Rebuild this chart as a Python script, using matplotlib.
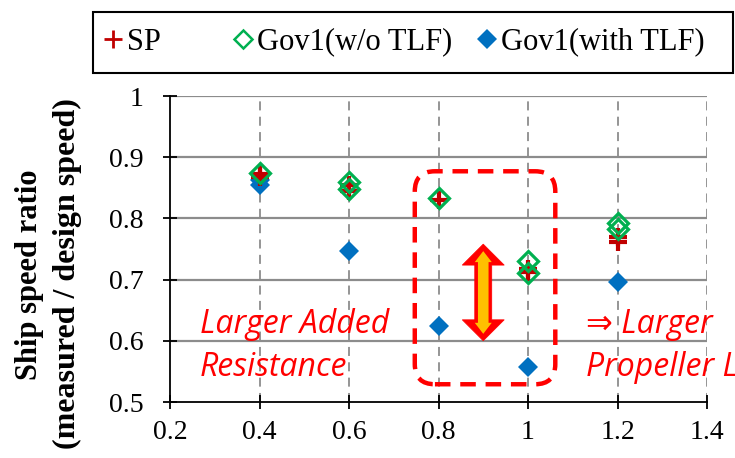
import numpy as np
import matplotlib.pyplot as plt
from matplotlib.lines import Line2D
from matplotlib.patches import FancyBboxPatch, Polygon, Rectangle

# ---- data ----
sp_x = [0.4, 0.4, 0.6, 0.6, 0.8, 1.0, 1.0, 1.2, 1.2]
sp_y = [0.873, 0.868, 0.855, 0.845, 0.830, 0.718, 0.712, 0.769, 0.761]

gov_wo_x = [0.4, 0.6, 0.6, 0.8, 1.0, 1.0, 1.2, 1.2]
gov_wo_y = [0.875, 0.859, 0.848, 0.834, 0.730, 0.711, 0.793, 0.782]

gov_with_x = [0.4, 0.4, 0.6, 0.8, 1.0, 1.2]
gov_with_y = [0.862, 0.854, 0.747, 0.624, 0.557, 0.696]

series_names = ["SP", "Gov1(w/o TLF)", "Gov1(with TLF)"]

x_ticks = [0.2, 0.4, 0.6, 0.8, 1.0, 1.2, 1.4]
x_tick_labels = ["0.2", "0.4", "0.6", "0.8", "1", "1.2", "1.4"]
y_ticks = [0.5, 0.6, 0.7, 0.8, 0.9, 1.0]
y_tick_labels = ["0.5", "0.6", "0.7", "0.8", "0.9", "1"]

# highlighted region and speed-drop arrow
box_x = (0.747, 1.061)
box_y = (0.529, 0.877)
arrow_x = 0.9
arrow_y = (0.600, 0.758)

RED = "#FF0000"
DARKRED = "#C00000"
GREEN = "#00B050"
BLUE = "#0070C0"
GRID = "#8C8C8C"

plt.rcParams["font.family"] = ["Liberation Serif", "DejaVu Serif"]

W, H = 735, 458
fig = plt.figure(figsize=(W / 100, H / 100), dpi=100)
ax_l, ax_r, ax_t, ax_b = 170, 707, 96, 402
ax = fig.add_axes([ax_l / W, 1 - ax_b / H, (ax_r - ax_l) / W, (ax_b - ax_t) / H])

ax.set_xlim(0.2, 1.4)
ax.set_ylim(0.5, 1.0)
px_x = 1.2 / (ax_r - ax_l)
px_y = 0.5 / (ax_b - ax_t)

# grid: solid horizontal, dashed vertical
for y in y_ticks[1:]:
    ax.axhline(y, color=GRID, lw=1.6, zorder=0)
for x in x_ticks[1:]:
    ax.axvline(x, color=GRID, lw=1.3, ls=(0, (5, 3.5)), zorder=0)

for s in ["top", "right"]:
    ax.spines[s].set_visible(False)
for s in ["left", "bottom"]:
    ax.spines[s].set_linewidth(1.3)

ax.set_xticks(x_ticks)
ax.set_xticklabels(x_tick_labels)
ax.set_yticks(y_ticks)
ax.set_yticklabels(y_tick_labels)
ax.tick_params(axis="both", direction="inout", length=10, width=1.3, labelsize=20)
ax.tick_params(axis="y", pad=14)
ax.tick_params(axis="x", pad=8)

# rounded dashed box around 0.8-1.0
box = FancyBboxPatch((box_x[0], box_y[0]), box_x[1] - box_x[0], box_y[1] - box_y[0],
                     boxstyle="round,pad=0,rounding_size=0.045",
                     mutation_aspect=px_y / px_x,
                     fill=False, ec=RED, lw=3.2, ls=(0, (3.5, 2.2)), zorder=2)
ax.add_patch(box)

# double-headed arrow: red outline shape with a yellow core
def double_arrow(xc, y0, y1, hw, sw, hl):
    hw, sw = hw * px_x, sw * px_x
    hl = hl * px_y
    return [(xc, y1), (xc + hw, y1 - hl), (xc + sw, y1 - hl), (xc + sw, y0 + hl),
            (xc + hw, y0 + hl), (xc, y0), (xc - hw, y0 + hl), (xc - sw, y0 + hl),
            (xc - sw, y1 - hl), (xc - hw, y1 - hl)]

ax.add_patch(Polygon(double_arrow(arrow_x, arrow_y[0], arrow_y[1], 21, 8.5, 21),
                     closed=True, fc=RED, ec=RED, lw=0.5, zorder=3))
inset = 7 * px_y
ax.add_patch(Polygon(double_arrow(arrow_x, arrow_y[0] + inset, arrow_y[1] - inset, 8.5, 5.3, 11),
                     closed=True, fc="#FFC000", ec="none", zorder=4))

# series
ax.plot(sp_x, sp_y, ls="none", marker="+", ms=13, mew=3, color=DARKRED, zorder=5)
ax.plot(gov_wo_x, gov_wo_y, ls="none", marker="D", ms=10, mew=2.3,
        mfc="none", mec=GREEN, zorder=6)
ax.plot(gov_with_x, gov_with_y, ls="none", marker="D", ms=10.5, mew=0,
        color=BLUE, zorder=4)

# annotations (baseline of the last line)
note_font = dict(family=["Open Sans", "DejaVu Sans"], style="italic", size=23, color=RED)
fig.text(200 / W, 1 - 376 / H, "Larger Added\nResistance",
         ha="left", va="baseline", linespacing=1.4, **note_font)
fig.text(586 / W, 1 - 376 / H, "\u21d2 Larger\nPropeller Load",
         ha="left", va="baseline", linespacing=1.4, **note_font)

# y label
fig.text(30 / W, 1 - 275 / H, "Ship speed ratio", rotation=90, ha="center", va="center",
         fontsize=22, fontweight="bold")
fig.text(67 / W, 1 - 274 / H, "(measured / design speed)", rotation=90, ha="center",
         va="center", fontsize=23, fontweight="bold")

# legend in a framed box above the plot, one entry per series
fig.patches.append(Rectangle((93 / W, 1 - 73 / H), 640 / W, 61 / H, transform=fig.transFigure,
                             fill=False, ec="black", lw=1.5))
handles = [
    Line2D([], [], ls="none", marker="+", ms=13, mew=2, color=DARKRED),
    Line2D([], [], ls="none", marker="D", ms=9, mew=1.8, mfc="none", mec=GREEN),
    Line2D([], [], ls="none", marker="D", ms=10, mew=0, color=BLUE),
]
entry_left = [104, 234, 478]
for h, name, xl in zip(handles, series_names, entry_left):
    fig.legend([h], [name], loc="center left", bbox_to_anchor=(xl / W, 1 - 42 / H),
               frameon=False, fontsize=22, borderpad=0, borderaxespad=0,
               handlelength=0.6, handletextpad=0.15)

fig.savefig("out.png", dpi=100)
